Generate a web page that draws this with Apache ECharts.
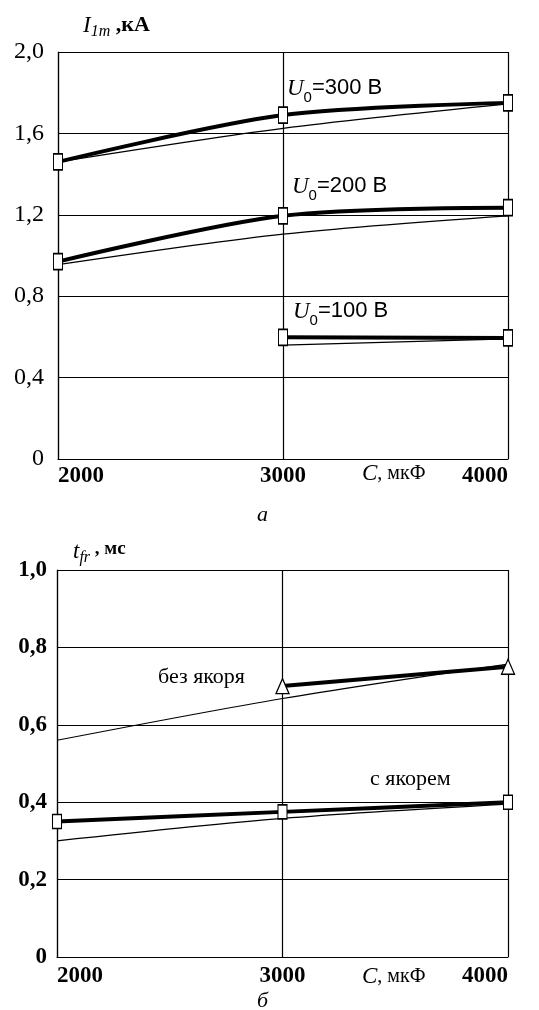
<!DOCTYPE html>
<html>
<head>
<meta charset="utf-8">
<script src="https://cdn.jsdelivr.net/npm/echarts@6/dist/echarts.min.js"></script>
<style>
  html, body { margin: 0; padding: 0; background: #fff; }
  #chart { width: 539px; height: 1010px; }
</style>
</head>
<body>
<div id="chart"></div>
<script>
// ёмкость, мкФ
const capacity = [2000, 3000, 4000]
const xTicks = [2000, 3000, 4000]

// (а) I1m, кА
const yTicksA = [0, 0.4, 0.8, 1.2, 1.6, 2.0]
const i300Thick = [1.46, 1.69, 1.75]
const i300Thin = [1.46, 1.625, 1.745]
const i200Thick = [0.97, 1.195, 1.235]
const i200Thin = [0.955, 1.105, 1.195]
const i100Thick = [null, 0.598, 0.595]
const i100Thin = [null, 0.56, 0.59]

// (б) tfr, мс
const yTicksB = [0, 0.2, 0.4, 0.6, 0.8, 1.0]
const tNoAnchorThick = [null, 0.70, 0.75]
const tNoAnchorThin = [0.56, 0.668, 0.757]
const tAnchorThick = [0.35, 0.375, 0.40]
const tAnchorThin = [0.30, 0.358, 0.395]

const serif = 'Liberation Serif'
const sans = 'Liberation Sans'

function pairs (ys) {
  return capacity.map((c, i) => [c, ys[i]])
}

function fmt (v) {
  return v === 0 ? '0' : v.toFixed(1).replace('.', ',')
}

function xAxis (gridIndex, margin) {
  return {
    type: 'value',
    gridIndex: gridIndex,
    min: xTicks[0],
    max: xTicks[xTicks.length - 1],
    interval: xTicks[1] - xTicks[0],
    axisLine: { lineStyle: { color: '#000', width: 1.2 } },
    axisTick: { show: false },
    axisLabel: {
      color: '#000',
      fontFamily: serif,
      fontSize: 23,
      fontWeight: 'bold',
      margin: margin,
      formatter: v => String(v),
      alignMinLabel: 'left',
      alignMaxLabel: 'right'
    },
    splitLine: { show: true, lineStyle: { color: '#000', width: 1.2 } }
  }
}

function yAxis (gridIndex, ticks, margin, size, weight) {
  return {
    type: 'value',
    gridIndex: gridIndex,
    min: ticks[0],
    max: ticks[ticks.length - 1],
    interval: ticks[1] - ticks[0],
    axisLine: { show: true, lineStyle: { color: '#000', width: 1.2 } },
    axisTick: { show: false },
    axisLabel: {
      color: '#000',
      fontFamily: serif,
      fontSize: size,
      fontWeight: weight,
      margin: margin,
      formatter: fmt
    },
    splitLine: { show: true, lineStyle: { color: '#000', width: 1.2 } }
  }
}

function thick (data, idx, symbol, size) {
  return {
    type: 'line',
    xAxisIndex: idx,
    yAxisIndex: idx,
    data: pairs(data),
    smooth: 0.3,
    connectNulls: false,
    symbol: symbol,
    symbolSize: size,
    showAllSymbol: true,
    lineStyle: { color: '#000', width: 4 },
    itemStyle: { color: '#fff', borderColor: '#000', borderWidth: 1.3 },
    z: 3
  }
}

function thin (data, idx) {
  return {
    type: 'line',
    xAxisIndex: idx,
    yAxisIndex: idx,
    data: pairs(data),
    smooth: 0.3,
    symbol: 'none',
    lineStyle: { color: '#000', width: 1.2 },
    z: 2
  }
}

function uLabel (v, x, y) {
  return {
    type: 'text',
    left: x,
    top: y,
    style: {
      text: '{u|U}{s|0}{t|=' + v + ' В}',
      rich: {
        u: { fontFamily: serif, fontStyle: 'italic', fontSize: 23, fill: '#000', lineHeight: 24, verticalAlign: 'top' },
        s: { fontFamily: sans, fontSize: 15, fill: '#000', lineHeight: 28, verticalAlign: 'bottom' },
        t: { fontFamily: sans, fontSize: 22, fill: '#000', lineHeight: 24, verticalAlign: 'top' }
      }
    }
  }
}

function subTitle (main, sub, rest, x, y, restSize) {
  return {
    type: 'text',
    left: x,
    top: y,
    style: {
      text: '{i|' + main + '}{s|' + sub + '}{t|' + rest + '}',
      rich: {
        i: { fontFamily: serif, fontStyle: 'italic', fontSize: 23, fill: '#000', lineHeight: 24, verticalAlign: 'top' },
        s: { fontFamily: serif, fontStyle: 'italic', fontSize: 16, fill: '#000', lineHeight: 26, verticalAlign: 'bottom' },
        t: { fontFamily: serif, fontWeight: 'bold', fontSize: restSize, fill: '#000', lineHeight: 24, verticalAlign: 'top' }
      }
    }
  }
}

function cLabel (x, y) {
  return {
    type: 'text',
    left: x,
    top: y,
    style: {
      text: '{c|C}{t|, мкФ}',
      rich: {
        c: { fontFamily: serif, fontStyle: 'italic', fontSize: 23, fill: '#000' },
        t: { fontFamily: serif, fontSize: 20, fill: '#000' }
      }
    }
  }
}

const chart = echarts.init(document.getElementById('chart'))
chart.setOption({
  animation: false,
  backgroundColor: '#fff',
  grid: [
    { left: 58, right: 31, top: 52, height: 407 },
    { left: 57, right: 31, top: 570, height: 387 }
  ],
  xAxis: [xAxis(0, 6), xAxis(1, 8)],
  yAxis: [yAxis(0, yTicksA, 14, 24, 'normal'), yAxis(1, yTicksB, 10, 23, 'bold')],
  series: [
    thin(i300Thin, 0),
    thick(i300Thick, 0, 'rect', [9, 16]),
    thin(i200Thin, 0),
    thick(i200Thick, 0, 'rect', [9, 16]),
    thin(i100Thin, 0),
    thick(i100Thick, 0, 'rect', [9, 16]),
    thin(tNoAnchorThin, 1),
    thick(tNoAnchorThick, 1, 'triangle', [13, 15]),
    thin(tAnchorThin, 1),
    thick(tAnchorThick, 1, 'rect', [9, 14])
  ],
  graphic: [
    subTitle('I', '1m', ' ,кА', 83, 14, 22),
    uLabel(300, 287, 77),
    uLabel(200, 292, 175),
    uLabel(100, 293, 300),
    cLabel(362, 462),
    {
      type: 'text', left: 257, top: 504,
      style: { text: 'а', fontFamily: serif, fontStyle: 'italic', fontSize: 22, fill: '#000' }
    },
    subTitle('t', 'fr', ' , мс', 73, 540, 19),
    {
      type: 'text', left: 158, top: 666,
      style: { text: 'без якоря', fontFamily: serif, fontSize: 22, fill: '#000' }
    },
    {
      type: 'text', left: 370, top: 768,
      style: { text: 'с якорем', fontFamily: serif, fontSize: 22, fill: '#000' }
    },
    cLabel(362, 965),
    {
      type: 'text', left: 257, top: 990,
      style: { text: 'б', fontFamily: serif, fontStyle: 'italic', fontSize: 22, fill: '#000' }
    }
  ]
})
</script>
</body>
</html>
